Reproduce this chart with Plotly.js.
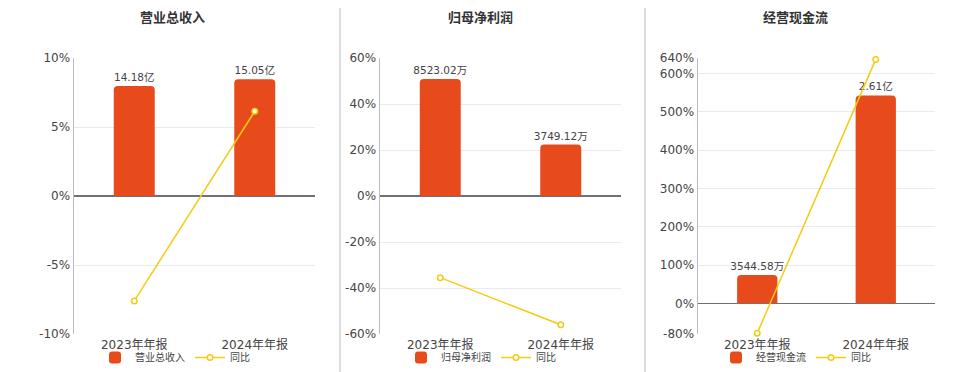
<!DOCTYPE html>
<html>
<head>
<meta charset="utf-8">
<script src="https://cdn.plot.ly/plotly-3.0.1.min.js"></script>
<style>
html,body{margin:0;padding:0;background:#fff;}
#chart{width:960px;height:372px;}
</style>
</head>
<body>
<div id="chart"></div>
<script>
// ---- data ----
const categories = ["2023年年报", "2024年年报"];

const panelTitles = ["营业总收入", "归母净利润", "经营现金流"];
const barNames = ["营业总收入", "归母净利润", "经营现金流"];
const lineName = "同比";

// bar values (revenue in 亿, others in 万)
const revenueValues = [14.18, 15.05];
const revenueLabels = ["14.18亿", "15.05亿"];
const revenueYoY = [-7.6, 6.14];

const profitValues = [8523.02, 3749.12];
const profitLabels = ["8523.02万", "3749.12万"];
const profitYoY = [-35.5, -56.0];

const cashValues = [3544.58, 26100];
const cashLabels = ["3544.58万", "2.61亿"];
const cashYoY = [-77.8, 636.3];

const pctTicks1 = [-10, -5, 0, 5, 10];
const pctTickText1 = ["-10%", "-5%", "0%", "5%", "10%"];
const pctTicks2 = [-60, -40, -20, 0, 20, 40, 60];
const pctTickText2 = ["-60%", "-40%", "-20%", "0%", "20%", "40%", "60%"];
const pctTicks3 = [-80, 0, 100, 200, 300, 400, 500, 600, 640];
const pctTickText3 = ["-80%", "0%", "100%", "200%", "300%", "400%", "500%", "600%", "640%"];

// ---- style ----
const BAR = "#E84B1B";
const LINE = "#F5CB13";
const FONT = "DejaVu Sans, Noto Sans CJK SC, sans-serif";
const W = 960, H = 372;

const panels = [
  {x0: 74, x1: 315, vals: revenueValues, labels: revenueLabels, yoy: revenueYoY,
   pr: [-10, 10], tv: pctTicks1, tt: pctTickText1, br: [-17.8, 17.8], tx: 172, lx: 95},
  {x0: 380, x1: 621, vals: profitValues, labels: profitLabels, yoy: profitYoY,
   pr: [-60, 60], tv: pctTicks2, tt: pctTickText2, br: [-10053, 10053], tx: 480, lx: 401},
  {x0: 698, x1: 935, vals: cashValues, labels: cashLabels, yoy: cashYoY,
   pr: [-80, 640], tv: pctTicks3, tt: pctTickText3, br: [-3850, 30800], tx: 795, lx: 716}
];

const yTop = 1 - 58 / H, yBot = 1 - 334 / H;
const traces = [];
const layout = {
  width: W, height: H,
  margin: {l: 0, r: 0, t: 0, b: 0},
  paper_bgcolor: "#fff", plot_bgcolor: "rgba(0,0,0,0)",
  font: {family: FONT, color: "#444", size: 12},
  showlegend: true,
  annotations: [],
  shapes: []
};

panels.forEach((p, i) => {
  const n = i + 1;
  const xa = n === 1 ? "x" : "x" + n;
  const ybar = n === 1 ? "y" : "y" + n;
  const ypct = "y" + (n + 3);
  const legendId = n === 1 ? "legend" : "legend" + n;

  traces.push({
    type: "bar", name: barNames[i], x: categories, y: p.vals,
    text: p.labels, texttemplate: "%{text}", textposition: "outside",
    constraintext: "none",
    textfont: {size: 10.5, color: "#444", family: FONT},
    cliponaxis: false,
    marker: {color: BAR, cornerradius: 4},
    width: 0.34, xaxis: xa, yaxis: ybar, legend: legendId, hoverinfo: "skip"
  });
  traces.push({
    type: "scatter", mode: "lines+markers", name: lineName, x: categories, y: p.yoy,
    line: {color: LINE, width: 1.5},
    marker: {symbol: "circle", size: 5.5, color: "#fff", line: {color: LINE, width: 1.5}},
    cliponaxis: false,
    xaxis: xa, yaxis: ypct, legend: legendId, hoverinfo: "skip"
  });

  layout["xaxis" + (n === 1 ? "" : n)] = {
    domain: [p.x0 / W, p.x1 / W], anchor: ybar, type: "category",
    range: [-0.5, 1.5], showgrid: false, zeroline: false, showline: false,
    ticks: "", ticklabelstandoff: 2,
    tickfont: {size: 12, color: "#444"}, fixedrange: true
  };
  layout["yaxis" + (n === 1 ? "" : n)] = {
    domain: [yBot, yTop], anchor: xa, range: p.br,
    showgrid: false, zeroline: false, showticklabels: false, showline: false, ticks: ""
  };
  layout["yaxis" + (n + 3)] = {
    domain: [yBot, yTop], anchor: xa, overlaying: ybar, side: "left",
    range: p.pr, tickmode: "array", tickvals: p.tv, ticktext: p.tt,
    showgrid: true, gridcolor: "#E6EAF3", gridwidth: 1,
    zeroline: true, zerolinecolor: "#6E717C", zerolinewidth: 1.5,
    showline: true, linecolor: "#B9BCC6", linewidth: 1.5,
    ticks: "", tickfont: {size: 12, color: "#444"}
  };

  layout[legendId] = {
    orientation: "h", x: p.lx / W, y: 0, xanchor: "left", yanchor: "bottom",
    font: {size: 10, color: "#444"}, bgcolor: "rgba(0,0,0,0)", borderwidth: 0,
    itemwidth: 30, tracegroupgap: 0
  };

  layout.annotations.push({
    text: "<b>" + panelTitles[i] + "</b>", xref: "paper", yref: "paper",
    x: p.tx / W, y: 1 - 18 / H, xanchor: "center", yanchor: "middle",
    showarrow: false, font: {size: 13, color: "#333", family: FONT}
  });
});

// panel dividers
[340, 645].forEach(px => {
  layout.shapes.push({
    type: "line", xref: "paper", yref: "paper",
    x0: px / W, x1: px / W, y0: 0, y1: 1 - 8 / H,
    line: {color: "#D0D0D0", width: 1.5}
  });
});

Plotly.newPlot("chart", traces, layout, {displayModeBar: false, staticPlot: true});
</script>
</body>
</html>
